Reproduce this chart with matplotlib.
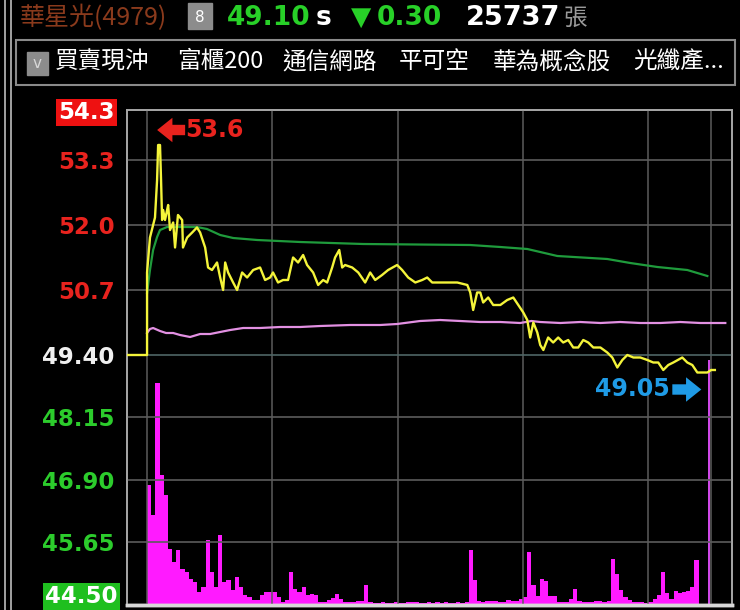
import matplotlib.pyplot as plt
import matplotlib.patches as patches
from matplotlib.lines import Line2D
from matplotlib.transforms import offset_copy

plt.rcParams['font.family'] = ['DejaVu Sans', 'Noto Sans CJK TC']
CJK = ['Noto Sans CJK TC', 'DejaVu Sans']

# minutes after 09:00 and traded price
price_t = [-10, 0, 0, 1.4, 3.8, 4.8, 5.3, 6.2, 6.7, 7.2, 7.7, 8.6, 9.6, 10.1, 11.0, 12.5,
           13.4, 14.8, 16.8, 17.2, 19.2, 21.6, 23.9, 25.4, 27.8, 29.2, 31.1, 33.5, 35.0,
           36.4, 37.4, 38.8, 41.2, 43.1, 45.5, 47.9, 50.8, 54.1, 56.5, 58.9, 60.3, 62.7,
           65.1, 67.5, 69.9, 72.3, 74.7, 76.6, 79.5, 81.9, 84.3, 86.2, 88.6, 90.0, 92.0,
           93.4, 94.8, 98.2, 101.1, 104.4, 106.8, 109.2, 112.5, 115.4, 119.7, 122.1,
           125.0, 128.4, 131.7, 134.1, 136.5, 140.3, 143.7, 148.5, 153.3, 154.7, 156.1,
           158.0, 159.5, 160.9, 163.3, 165.7, 169.1, 172.4, 175.3, 177.7, 180.1, 182.0,
           183.4, 184.9, 186.8, 188.2, 189.7, 192.0, 194.4, 196.8, 199.2, 201.6, 204.0,
           206.4, 208.8, 211.2, 213.6, 217.0, 220.3, 222.7, 225.1, 227.5, 229.9, 232.8,
           236.1, 239.5, 242.3, 244.7, 247.1, 249.5, 251.9, 256.2, 258.6, 261.0, 263.4,
           265.8, 268.2, 270.0, 271.8]
price = [49.40, 49.40, 51.05, 51.75, 52.15, 52.9, 53.6, 53.6, 52.9, 52.1, 52.3, 52.1, 52.3,
         52.4, 51.9, 52.05, 51.55, 52.2, 52.1, 51.55, 51.75, 51.85, 51.95, 51.85, 51.55,
         51.15, 51.1, 51.25, 50.95, 50.7, 51.25, 51.05, 50.85, 50.7, 51.05, 50.95, 51.1,
         51.15, 50.9, 50.95, 51.05, 50.85, 50.9, 50.9, 51.35, 51.25, 51.4, 51.2, 51.05,
         50.8, 50.9, 50.85, 51.15, 51.35, 51.5, 51.15, 51.2, 51.15, 51.05, 50.85, 51.05,
         50.9, 51.0, 51.1, 51.2, 51.1, 50.95, 50.85, 50.9, 50.95, 50.85, 50.85, 50.85,
         50.85, 50.8, 50.65, 50.3, 50.65, 50.65, 50.45, 50.55, 50.4, 50.4, 50.5, 50.55,
         50.4, 50.25, 50.1, 49.75, 50.05, 49.85, 49.6, 49.5, 49.75, 49.65, 49.75, 49.65,
         49.7, 49.55, 49.55, 49.7, 49.65, 49.55, 49.55, 49.45, 49.35, 49.15, 49.3, 49.4,
         49.35, 49.35, 49.3, 49.25, 49.25, 49.1, 49.2, 49.25, 49.35, 49.25, 49.2, 49.05,
         49.05, 49.05, 49.10, 49.10]

# average price line
avg_t = [0, 1.4, 2.9, 4.8, 6.2, 9.6, 23.9, 28.7, 35.0, 41.2, 52.7, 73.3, 103.4, 154.7,
         169.1, 182.0, 196.4, 220.3, 231.3, 244.3, 258.6, 268.2]
avg = [50.64, 51.1, 51.5, 51.76, 51.9, 51.96, 51.96, 51.92, 51.8, 51.74, 51.7, 51.66,
       51.62, 51.6, 51.56, 51.52, 51.38, 51.32, 51.24, 51.16, 51.1, 50.98]

# pink indicator line
ind_t = [0, 1.4, 2.9, 6.2, 9.1, 12.5, 15.8, 20.6, 25.4, 30.2, 35.0, 39.8, 46.0, 54.1,
         63.7, 73.3, 82.9, 97.2, 111.6, 119.7, 130.7, 140.3, 149.9, 159.5, 169.1, 178.6,
         184.0, 188.2, 197.8, 207.4, 217.0, 226.5, 236.1, 245.7, 255.3, 264.8, 276.8]
ind = [49.84, 49.92, 49.94, 49.88, 49.84, 49.84, 49.8, 49.76, 49.82, 49.82, 49.86, 49.9,
       49.94, 49.94, 49.96, 49.96, 49.98, 50.0, 50.0, 50.02, 50.08, 50.1, 50.08, 50.06,
       50.06, 50.04, 50.08, 50.06, 50.04, 50.06, 50.04, 50.06, 50.04, 50.04, 50.06,
       50.04, 50.04]

# volume per 2 minutes (張), plus the closing auction at 13:30
vol = [1200, 900, 2220, 1300, 1100, 560, 430, 550, 360, 330, 260, 230, 130, 180, 650,
       330, 180, 700, 230, 250, 150, 280, 180, 100, 80, 50, 50, 100, 130, 130, 130, 80,
       30, 50, 330, 160, 130, 180, 100, 110, 100, 30, 30, 50, 70, 110, 60, 30, 30, 30,
       40, 40, 200, 30, 20, 20, 30, 20, 20, 30, 20, 20, 30, 30, 30, 20, 20, 30, 20, 30,
       20, 30, 20, 20, 30, 20, 30, 550, 250, 40, 30, 40, 40, 40, 30, 30, 50, 40, 40, 60,
       80, 530, 200, 90, 260, 240, 90, 90, 30, 30, 30, 60, 160, 40, 30, 30, 30, 40, 40,
       30, 40, 460, 310, 150, 80, 50, 30, 30, 30, 20, 30, 60, 100, 330, 120, 60, 140, 120,
       130, 140, 180, 450, 0, 0, 0]
vol_t = [2 * i for i in range(len(vol))]
close_t = 268.6
close_vol = 2450

yticks = [54.3, 53.3, 52.0, 50.7, 49.40, 48.15, 46.90, 45.65, 44.50]
ylabels = ['54.3', '53.3', '52.0', '50.7', '49.40', '48.15', '46.90', '45.65', '']
ref_price = 49.40
hours = [0, 60, 120, 180, 240, 270]

tags = ['買賣現沖', '富櫃200', '通信網路', '平可空', '華為概念股', '光纖產...']
tag_x = [55, 177, 282, 399, 493, 633]

fig = plt.figure(figsize=(7.4, 6.1), dpi=100, facecolor='black')
W, H = 740, 610

ax = fig.add_axes([127 / W, 5 / H, 605 / W, 495 / H])
ax2 = ax.twinx()
ax.set_zorder(2)
ax.patch.set_visible(False)
ax2.patch.set_facecolor('black')

ax.set_xlim(-9.6, 280)
ax.set_ylim(44.4, 54.3)
ax2.set_ylim(0, 4950)

ax2.bar(vol_t, vol, width=2, align='edge', color='#ff1aff', edgecolor='none')
ax2.bar([close_t], [close_vol], width=1.0, align='edge', color='#d048e8', edgecolor='none')
ax2.set_yticks([])

for h in hours:
    ax.axvline(h, color='#5c5c5c', lw=1.1, zorder=1)
for t in yticks[1:-1]:
    c = '#4f6666' if t == ref_price else '#5c5c5c'
    ax.axhline(t, color=c, lw=1.2, zorder=1)

ax.plot(ind_t, ind, color='#e290e2', lw=1.6, zorder=3)
ax.plot(avg_t, avg, color='#1f9b3c', lw=1.6, zorder=3)
ax.plot(price_t, price, color='#f4f43a', lw=1.7, zorder=4)

# high / low labels with thick arrows
hi = price.index(max(price))
lo = price.index(min(price[3:]))
red = '#e8231e'
blue = '#1f9be6'


def near(dx, dy):
    return offset_copy(ax.transData, fig=fig, x=dx, y=dy, units='dots')


arrow = 'simple,head_length=0.5,head_width=0.8,tail_width=0.34'
ax.annotate('', xy=(price_t[hi], price[hi]), xycoords=near(-1, 15),
            xytext=(price_t[hi], price[hi]), textcoords=near(27, 15),
            arrowprops=dict(arrowstyle=arrow, color=red, lw=0, shrinkA=0, shrinkB=0,
                            mutation_scale=22), zorder=5)
ax.annotate('53.6', xy=(price_t[hi], price[hi]), xytext=(27, 15), textcoords='offset pixels',
            color=red, fontsize=17, fontweight='bold', ha='left', va='center', zorder=5)
ax.annotate('', xy=(price_t[lo], price[lo]), xycoords=near(4, -17),
            xytext=(price_t[lo], price[lo]), textcoords=near(-25, -17),
            arrowprops=dict(arrowstyle=arrow, color=blue, lw=0, shrinkA=0, shrinkB=0,
                            mutation_scale=22), zorder=5)
ax.annotate('49.05', xy=(price_t[lo], price[lo]), xytext=(-28, -17), textcoords='offset pixels',
            color=blue, fontsize=17, fontweight='bold', ha='right', va='center', zorder=5)

ax.set_xticks([])
ax.set_yticks(yticks)
ax.set_yticklabels(ylabels)
ax.tick_params(axis='y', length=0, pad=9, labelsize=16.5)
for lab, t in zip(ax.get_yticklabels(), yticks):
    lab.set_fontweight('bold')
    if t > ref_price:
        lab.set_color(red)
    elif t < ref_price:
        lab.set_color('#2ccc2c')
    else:
        lab.set_color('#f0f0f0')
labs = ax.get_yticklabels()
labs[0].set_color('white')
labs[0].set_bbox(dict(facecolor='#ee1111', edgecolor='none', pad=1.5))
# bottom limit label, lifted a little so it is not cut by the window edge
ax.annotate('44.50', xy=(0, yticks[-1]), xycoords=('axes fraction', 'data'),
            xytext=(-9, 3), textcoords='offset pixels', ha='right', va='center',
            color='white', fontsize=16.5, fontweight='bold',
            bbox=dict(facecolor='#1fbf1f', edgecolor='none', pad=1.5), annotation_clip=False)

for a in (ax, ax2):
    for s in a.spines.values():
        s.set_color('#a8a8a8')
        s.set_linewidth(1.2)
    a.spines['bottom'].set_color('#d8d8d8')
    a.spines['bottom'].set_linewidth(2.5)

# left double border
for x in (5, 11):
    fig.add_artist(Line2D([x / W, x / W], [0, 1], color='#bdbdbd', lw=1.2))

# header line
hy = 1 - 18 / H
fig.text(20 / W, hy, '華星光(4979)', color='#8a3a1c', fontsize=18, family=CJK, va='center')
fig.add_artist(patches.Rectangle((188 / W, 1 - 29 / H), 24 / W, 26 / H, color='#8c8c8c'))
fig.text(200 / W, hy, '8', color='white', fontsize=11, ha='center', va='center')
fig.text(227 / W, hy, '49.10', color='#28d028', fontsize=19, fontweight='bold', va='center')
fig.text(316 / W, hy, 's', color='white', fontsize=19, fontweight='bold', va='center')
fig.text(351 / W, hy, '▼', color='#28d028', fontsize=19, fontweight='bold', va='center')
fig.text(377 / W, hy, '0.30', color='#28d028', fontsize=19, fontweight='bold', va='center')
fig.text(466 / W, hy, '25737', color='white', fontsize=19.5, fontweight='bold', va='center')
fig.text(564 / W, hy, '張', color='#9a9a9a', fontsize=17, family=CJK, va='center')

# tag bar
fig.add_artist(patches.Rectangle((16 / W, 1 - 85 / H), 719 / W, 45 / H, fill=False,
                                 edgecolor='#8a8a8a', lw=1.5))
fig.add_artist(patches.Rectangle((27 / W, 1 - 75 / H), 21 / W, 23 / H, color='#8c8c8c'))
fig.text(37.5 / W, 1 - 64 / H, 'v', color='#d8d8d8', fontsize=11, ha='center', va='center')
for t, x in zip(tags, tag_x):
    fig.text(x / W, 1 - 62 / H, t, color='white', fontsize=17, family=CJK, va='center')

fig.savefig('out.png', dpi=100, facecolor='black')
